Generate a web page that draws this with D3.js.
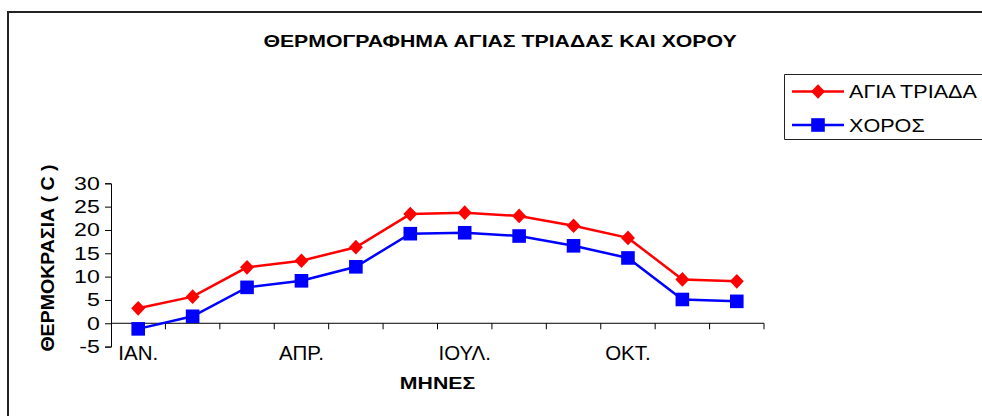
<!DOCTYPE html>
<html>
<head>
<meta charset="utf-8">
<script src="https://cdn.jsdelivr.net/npm/d3@7"></script>
<style>
    body { margin: 0; background: #fff; }
    text { font-family: "Liberation Sans", Arial, sans-serif; }
</style>
</head>
<body>
<div id="chart"></div>
<script>
const width = 982;
const height = 416;

const months = ["ΙΑΝ.", "ΦΕΒ.", "ΜΑΡ.", "ΑΠΡ.", "ΜΑΙ.", "ΙΟΥΝ.", "ΙΟΥΛ.", "ΑΥΓ.", "ΣΕΠ.", "ΟΚΤ.", "ΝΟΕ.", "ΔΕΚ."];
const shownMonths = ["ΙΑΝ.", "ΑΠΡ.", "ΙΟΥΛ.", "ΟΚΤ."];
const agiaTriada = [3.2, 5.7, 12.0, 13.4, 16.3, 23.4, 23.7, 23.0, 20.9, 18.3, 9.4, 9.0];
const xoros = [-1.2, 1.5, 7.7, 9.1, 12.1, 19.2, 19.4, 18.7, 16.6, 14.0, 5.1, 4.7];
const yTicks = [-5, 0, 5, 10, 15, 20, 25, 30];

const series = [
    { name: "ΑΓΙΑ ΤΡΙΑΔΑ", values: agiaTriada, color: "#ff0000", symbol: "diamond" },
    { name: "ΧΟΡΟΣ", values: xoros, color: "#0000ff", symbol: "square" }
];

const plot = { left: 111, right: 764, top: 183.3, bottom: 346.6 };
// the original picture is stretched sideways, so the text is too
const stretch = 1.25;

const svg = d3.select("#chart")
    .append("svg")
    .attr("width", width)
    .attr("height", height);

// outer chart border (only top and left are visible in the frame)
svg.append("path")
    .attr("d", "M8," + height + "V12H" + width)
    .attr("fill", "none")
    .attr("stroke", "#222")
    .attr("stroke-width", 2);

const x = d3.scaleBand()
    .domain(months)
    .range([plot.left, plot.right]);

const y = d3.scaleLinear()
    .domain([-5, 30])
    .range([plot.bottom, plot.top]);

function label(px, py, txt, size, opts) {
    opts = opts || {};
    return svg.append("text")
        .attr("transform", "translate(" + px + "," + py + ")" + (opts.rotate ? " rotate(-90)" : "") + " scale(" + (opts.sx || stretch) + "," + (opts.sy || 1) + ")")
        .attr("text-anchor", opts.anchor || "middle")
        .attr("font-size", size)
        .attr("font-weight", opts.bold ? "bold" : "normal")
        .text(txt);
}

// y axis
const yAxis = svg.append("g")
    .attr("transform", "translate(" + plot.left + ",0)")
    .call(d3.axisLeft(y).tickValues(yTicks).tickSize(6).tickPadding(3).tickFormat((d) => String(d)));
yAxis.select(".domain").attr("stroke", "#000");
yAxis.selectAll(".tick line").attr("stroke", "#000");
yAxis.selectAll("text")
    .attr("font-size", 18.5)
    .attr("fill", "#000")
    .attr("transform", "scale(" + stretch + ",1)")
    .style("font-family", "'Liberation Sans', Arial, sans-serif");

// x axis sits at zero, ticks between categories
const xAxis = svg.append("g")
    .attr("transform", "translate(0," + y(0) + ")");
xAxis.append("line")
    .attr("x1", plot.left)
    .attr("x2", plot.right)
    .attr("stroke", "#000");
xAxis.selectAll(".xtick")
    .data(months)
    .enter().append("line")
    .attr("class", "xtick")
    .attr("x1", (d) => x(d) + x.bandwidth())
    .attr("x2", (d) => x(d) + x.bandwidth())
    .attr("y1", 0)
    .attr("y2", 6)
    .attr("stroke", "#000");

// category labels at the bottom of the plot
shownMonths.forEach((d) => {
    label(x(d) + x.bandwidth() / 2, 359.5, d, 19.5, { sx: 1.05 });
});

// lines and markers
const line = d3.line()
    .x((d, i) => x(months[i]) + x.bandwidth() / 2)
    .y((d) => y(d));

const diamondType = {
    draw: (context, size) => {
        const r = Math.sqrt(size / 2);
        context.moveTo(0, -r * 1.05);
        context.lineTo(r, 0);
        context.lineTo(0, r * 1.05);
        context.lineTo(-r, 0);
        context.closePath();
    }
};
const symbolOf = (s) => s == "diamond" ? d3.symbol().type(diamondType).size(98) : d3.symbol().type(d3.symbolSquare).size(185);

series.forEach((s) => {
    const g = svg.append("g");
    g.append("path")
        .datum(s.values)
        .attr("d", line)
        .attr("fill", "none")
        .attr("stroke", s.color)
        .attr("stroke-width", 2.5);
    g.selectAll("path.marker")
        .data(s.values)
        .enter().append("path")
        .attr("class", "marker")
        .attr("d", symbolOf(s.symbol))
        .attr("transform", (d, i) => "translate(" + (x(months[i]) + x.bandwidth() / 2) + "," + y(d) + ")")
        .attr("fill", s.color);
});

// titles
label(500, 46.7, "ΘΕΡΜΟΓΡΑΦΗΜΑ ΑΓΙΑΣ ΤΡΙΑΔΑΣ ΚΑΙ ΧΟΡΟΥ", 17, { bold: true });
label((plot.left + plot.right) / 2, 389, "ΜΗΝΕΣ", 17, { bold: true });
label(53.5, 258, "ΘΕΡΜΟΚΡΑΣΙΑ ( C )", 17, { bold: true, rotate: true, sx: 1.15, sy: 1.05 });

// legend
svg.append("path")
    .attr("d", "M" + width + ",74.5H784.5V139.5H" + width)
    .attr("fill", "none")
    .attr("stroke", "#222")
    .attr("stroke-width", 1);

series.forEach((s, i) => {
    const ly = 91.5 + i * 33.5;
    svg.append("line")
        .attr("x1", 792)
        .attr("x2", 844)
        .attr("y1", ly)
        .attr("y2", ly)
        .attr("stroke", s.color)
        .attr("stroke-width", 2.5);
    svg.append("path")
        .attr("d", symbolOf(s.symbol)())
        .attr("transform", "translate(818," + ly + ")")
        .attr("fill", s.color);
    label(849, ly + 6.5, s.name, 18, { anchor: "start", sx: 1.2 });
});
</script>
</body>
</html>
